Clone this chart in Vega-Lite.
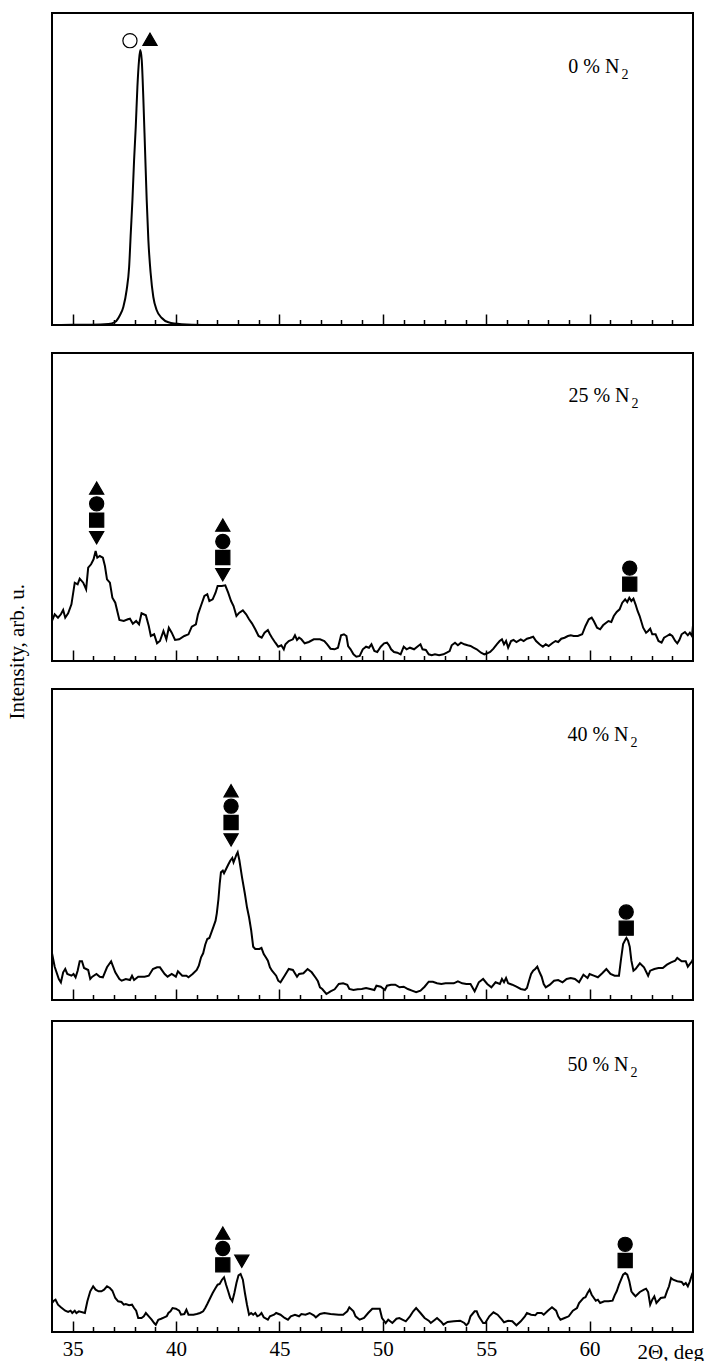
{
  "$schema": "https://vega.github.io/schema/vega-lite/v6.json",
  "padding": {"left": 6, "top": 12, "right": 0, "bottom": 0},
  "config": {
    "view": {"stroke": "black", "strokeWidth": 2},
    "font": "Liberation Serif",
    "axis": {"grid": false}
  },
  "title": {"text": "Intensity, arb. u.", "orient": "left", "anchor": "middle", "frame": "bounds", "font": "Liberation Serif", "fontSize": 21, "fontWeight": "normal", "color": "black", "offset": 19, "dx": 37},
  "datasets": {
    "labels": [
      {"n2": 0, "deg": 61.44, "i": 252.3, "text": "0 % N", "sub": "2"},
      {"n2": 25, "deg": 61.93, "i": 259, "text": "25 % N", "sub": "2"},
      {"n2": 40, "deg": 61.88, "i": 259.3, "text": "40 % N", "sub": "2"},
      {"n2": 50, "deg": 61.88, "i": 261.4, "text": "50 % N", "sub": "2"}
    ],
    "markers": [
      {"n2": 0, "deg": 37.77, "i": 284.3, "phase": "ph5"},
      {"n2": 0, "deg": 38.74, "i": 285.8, "phase": "ph1"},
      {"n2": 25, "deg": 36.16, "i": 172.9, "phase": "ph1"},
      {"n2": 25, "deg": 36.16, "i": 157.2, "phase": "ph2"},
      {"n2": 25, "deg": 36.16, "i": 140.9, "phase": "ph3"},
      {"n2": 25, "deg": 36.16, "i": 123.2, "phase": "ph4"},
      {"n2": 25, "deg": 42.26, "i": 135.9, "phase": "ph1"},
      {"n2": 25, "deg": 42.26, "i": 119.5, "phase": "ph2"},
      {"n2": 25, "deg": 42.26, "i": 103.5, "phase": "ph3"},
      {"n2": 25, "deg": 42.26, "i": 86.2, "phase": "ph4"},
      {"n2": 25, "deg": 61.94, "i": 92.9, "phase": "ph2"},
      {"n2": 25, "deg": 61.94, "i": 76.9, "phase": "ph3"},
      {"n2": 40, "deg": 42.66, "i": 209.3, "phase": "ph1"},
      {"n2": 40, "deg": 42.66, "i": 193.8, "phase": "ph2"},
      {"n2": 40, "deg": 42.66, "i": 177.5, "phase": "ph3"},
      {"n2": 40, "deg": 42.66, "i": 160.1, "phase": "ph4"},
      {"n2": 40, "deg": 61.77, "i": 88, "phase": "ph2"},
      {"n2": 40, "deg": 61.77, "i": 71.8, "phase": "ph3"},
      {"n2": 50, "deg": 42.26, "i": 98.9, "phase": "ph1"},
      {"n2": 50, "deg": 42.26, "i": 83.5, "phase": "ph2"},
      {"n2": 50, "deg": 42.26, "i": 67.2, "phase": "ph3"},
      {"n2": 50, "deg": 43.18, "i": 70.7, "phase": "ph4"},
      {"n2": 50, "deg": 61.72, "i": 87.7, "phase": "ph2"},
      {"n2": 50, "deg": 61.72, "i": 71.5, "phase": "ph3"}
    ],
    "curves": [
      {"n2":0,"deg":34.0,"i":0},{"n2":0,"deg":35.0,"i":0.2},{"n2":0,"deg":35.92,"i":0.3},{"n2":0,"deg":36.73,"i":1},{"n2":0,"deg":37.05,"i":3},{"n2":0,"deg":37.29,"i":10},{"n2":0,"deg":37.45,"i":18},{"n2":0,"deg":37.61,"i":35},{"n2":0,"deg":37.73,"i":58},{"n2":0,"deg":37.81,"i":92},{"n2":0,"deg":37.89,"i":125},{"n2":0,"deg":37.97,"i":165},{"n2":0,"deg":38.05,"i":198},{"n2":0,"deg":38.13,"i":238},{"n2":0,"deg":38.21,"i":265},{"n2":0,"deg":38.27,"i":275},{"n2":0,"deg":38.34,"i":265},{"n2":0,"deg":38.42,"i":225},{"n2":0,"deg":38.5,"i":175},{"n2":0,"deg":38.58,"i":125},{"n2":0,"deg":38.66,"i":85},{"n2":0,"deg":38.77,"i":52},{"n2":0,"deg":38.9,"i":28},{"n2":0,"deg":39.06,"i":15},{"n2":0,"deg":39.31,"i":7},{"n2":0,"deg":39.63,"i":2.7},{"n2":0,"deg":40.27,"i":0.7},{"n2":0,"deg":41.24,"i":0},{"n2":0,"deg":65.0,"i":0},

      {"n2":25,"deg":34.0,"i":40.0},{"n2":25,"deg":34.13,"i":46.7},{"n2":25,"deg":34.29,"i":43.3},{"n2":25,"deg":34.43,"i":46.7},{"n2":25,"deg":34.54,"i":51.0},{"n2":25,"deg":34.64,"i":43.3},{"n2":25,"deg":34.78,"i":47.7},{"n2":25,"deg":34.94,"i":56.7},{"n2":25,"deg":35.1,"i":78.3},{"n2":25,"deg":35.24,"i":76.7},{"n2":25,"deg":35.34,"i":82.3},{"n2":25,"deg":35.51,"i":78.3},{"n2":25,"deg":35.65,"i":71.7},{"n2":25,"deg":35.75,"i":93.3},{"n2":25,"deg":35.89,"i":96.7},{"n2":25,"deg":36.01,"i":101.7},{"n2":25,"deg":36.11,"i":110.0},{"n2":25,"deg":36.19,"i":103.3},{"n2":25,"deg":36.31,"i":105.0},{"n2":25,"deg":36.46,"i":103.3},{"n2":25,"deg":36.56,"i":95.0},{"n2":25,"deg":36.66,"i":81.7},{"n2":25,"deg":36.8,"i":78.3},{"n2":25,"deg":36.92,"i":63.3},{"n2":25,"deg":37.06,"i":58.3},{"n2":25,"deg":37.26,"i":41.0},{"n2":25,"deg":37.47,"i":40.0},{"n2":25,"deg":37.67,"i":41.7},{"n2":25,"deg":37.77,"i":42.3},{"n2":25,"deg":37.91,"i":37.3},{"n2":25,"deg":38.07,"i":40.0},{"n2":25,"deg":38.21,"i":36.7},{"n2":25,"deg":38.33,"i":47.7},{"n2":25,"deg":38.54,"i":45.7},{"n2":25,"deg":38.68,"i":35.0},{"n2":25,"deg":38.78,"i":25.0},{"n2":25,"deg":38.94,"i":26.7},{"n2":25,"deg":39.08,"i":17.7},{"n2":25,"deg":39.22,"i":20.0},{"n2":25,"deg":39.39,"i":30.0},{"n2":25,"deg":39.53,"i":21.7},{"n2":25,"deg":39.65,"i":33.3},{"n2":25,"deg":39.79,"i":28.3},{"n2":25,"deg":39.95,"i":21.0},{"n2":25,"deg":40.15,"i":21.7},{"n2":25,"deg":40.4,"i":25.0},{"n2":25,"deg":40.6,"i":26.7},{"n2":25,"deg":40.76,"i":34.3},{"n2":25,"deg":40.96,"i":36.7},{"n2":25,"deg":41.06,"i":46.7},{"n2":25,"deg":41.2,"i":55.0},{"n2":25,"deg":41.37,"i":65.0},{"n2":25,"deg":41.51,"i":66.7},{"n2":25,"deg":41.61,"i":60.0},{"n2":25,"deg":41.77,"i":61.7},{"n2":25,"deg":41.91,"i":68.3},{"n2":25,"deg":42.01,"i":75.0},{"n2":25,"deg":42.21,"i":75.0},{"n2":25,"deg":42.38,"i":75.7},{"n2":25,"deg":42.52,"i":68.3},{"n2":25,"deg":42.66,"i":60.0},{"n2":25,"deg":42.78,"i":55.0},{"n2":25,"deg":42.92,"i":45.0},{"n2":25,"deg":43.06,"i":48.3},{"n2":25,"deg":43.23,"i":50.7},{"n2":25,"deg":43.39,"i":46.7},{"n2":25,"deg":43.53,"i":41.7},{"n2":25,"deg":43.67,"i":37.7},{"n2":25,"deg":43.83,"i":31.7},{"n2":25,"deg":43.99,"i":25.0},{"n2":25,"deg":44.14,"i":23.3},{"n2":25,"deg":44.28,"i":28.3},{"n2":25,"deg":44.44,"i":31.0},{"n2":25,"deg":44.54,"i":26.7},{"n2":25,"deg":44.64,"i":23.3},{"n2":25,"deg":44.8,"i":18.3},{"n2":25,"deg":44.94,"i":14.3},{"n2":25,"deg":45.09,"i":15.7},{"n2":25,"deg":45.21,"i":11.7},{"n2":25,"deg":45.29,"i":16.7},{"n2":25,"deg":45.45,"i":20.0},{"n2":25,"deg":45.65,"i":21.7},{"n2":25,"deg":45.75,"i":25.7},{"n2":25,"deg":45.85,"i":21.0},{"n2":25,"deg":45.95,"i":23.3},{"n2":25,"deg":46.06,"i":21.7},{"n2":25,"deg":46.22,"i":17.7},{"n2":25,"deg":46.42,"i":19.0},{"n2":25,"deg":46.66,"i":21.7},{"n2":25,"deg":46.96,"i":21.7},{"n2":25,"deg":47.17,"i":20.0},{"n2":25,"deg":47.31,"i":16.7},{"n2":25,"deg":47.47,"i":12.3},{"n2":25,"deg":47.67,"i":11.7},{"n2":25,"deg":47.83,"i":13.3},{"n2":25,"deg":47.98,"i":25.7},{"n2":25,"deg":48.12,"i":26.7},{"n2":25,"deg":48.24,"i":25.0},{"n2":25,"deg":48.32,"i":15.0},{"n2":25,"deg":48.44,"i":11.7},{"n2":25,"deg":48.58,"i":6.7},{"n2":25,"deg":48.72,"i":4.3},{"n2":25,"deg":48.88,"i":5.0},{"n2":25,"deg":49.03,"i":11.7},{"n2":25,"deg":49.19,"i":14.3},{"n2":25,"deg":49.33,"i":13.3},{"n2":25,"deg":49.45,"i":16.7},{"n2":25,"deg":49.59,"i":10.0},{"n2":25,"deg":49.73,"i":9.0},{"n2":25,"deg":49.9,"i":14.3},{"n2":25,"deg":50.06,"i":17.7},{"n2":25,"deg":50.2,"i":18.3},{"n2":25,"deg":50.3,"i":15.7},{"n2":25,"deg":50.4,"i":11.7},{"n2":25,"deg":50.54,"i":9.0},{"n2":25,"deg":50.7,"i":8.3},{"n2":25,"deg":50.86,"i":6.7},{"n2":25,"deg":51.01,"i":14.3},{"n2":25,"deg":51.15,"i":11.7},{"n2":25,"deg":51.31,"i":13.3},{"n2":25,"deg":51.51,"i":11.7},{"n2":25,"deg":51.71,"i":15.0},{"n2":25,"deg":51.82,"i":16.7},{"n2":25,"deg":51.92,"i":11.7},{"n2":25,"deg":52.08,"i":11.0},{"n2":25,"deg":52.22,"i":6.7},{"n2":25,"deg":52.36,"i":5.7},{"n2":25,"deg":52.52,"i":6.7},{"n2":25,"deg":52.72,"i":5.7},{"n2":25,"deg":52.93,"i":6.7},{"n2":25,"deg":53.09,"i":8.3},{"n2":25,"deg":53.23,"i":10.0},{"n2":25,"deg":53.33,"i":15.7},{"n2":25,"deg":53.49,"i":18.3},{"n2":25,"deg":53.63,"i":15.7},{"n2":25,"deg":53.78,"i":18.3},{"n2":25,"deg":53.94,"i":16.7},{"n2":25,"deg":54.1,"i":15.7},{"n2":25,"deg":54.24,"i":15.0},{"n2":25,"deg":54.38,"i":13.3},{"n2":25,"deg":54.54,"i":11.7},{"n2":25,"deg":54.75,"i":8.3},{"n2":25,"deg":54.91,"i":6.7},{"n2":25,"deg":55.05,"i":7.7},{"n2":25,"deg":55.19,"i":9.0},{"n2":25,"deg":55.35,"i":12.3},{"n2":25,"deg":55.51,"i":16.7},{"n2":25,"deg":55.65,"i":20.0},{"n2":25,"deg":55.76,"i":21.7},{"n2":25,"deg":55.86,"i":16.7},{"n2":25,"deg":55.96,"i":20.0},{"n2":25,"deg":56.06,"i":13.3},{"n2":25,"deg":56.2,"i":20.0},{"n2":25,"deg":56.32,"i":21.0},{"n2":25,"deg":56.46,"i":19.0},{"n2":25,"deg":56.67,"i":21.7},{"n2":25,"deg":56.81,"i":20.0},{"n2":25,"deg":56.97,"i":22.3},{"n2":25,"deg":57.13,"i":23.3},{"n2":25,"deg":57.27,"i":24.3},{"n2":25,"deg":57.41,"i":20.0},{"n2":25,"deg":57.58,"i":16.7},{"n2":25,"deg":57.74,"i":14.3},{"n2":25,"deg":57.88,"i":16.7},{"n2":25,"deg":58.02,"i":15.0},{"n2":25,"deg":58.19,"i":17.7},{"n2":25,"deg":58.35,"i":20.0},{"n2":25,"deg":58.48,"i":19.0},{"n2":25,"deg":58.63,"i":22.3},{"n2":25,"deg":58.79,"i":23.3},{"n2":25,"deg":58.95,"i":25.0},{"n2":25,"deg":59.09,"i":25.7},{"n2":25,"deg":59.23,"i":25.0},{"n2":25,"deg":59.43,"i":25.0},{"n2":25,"deg":59.64,"i":26.7},{"n2":25,"deg":59.8,"i":35.0},{"n2":25,"deg":59.96,"i":41.7},{"n2":25,"deg":60.1,"i":43.3},{"n2":25,"deg":60.2,"i":40.0},{"n2":25,"deg":60.36,"i":33.3},{"n2":25,"deg":60.51,"i":31.7},{"n2":25,"deg":60.65,"i":35.7},{"n2":25,"deg":60.77,"i":37.7},{"n2":25,"deg":60.91,"i":40.0},{"n2":25,"deg":61.05,"i":39.0},{"n2":25,"deg":61.17,"i":45.0},{"n2":25,"deg":61.31,"i":49.0},{"n2":25,"deg":61.45,"i":51.7},{"n2":25,"deg":61.58,"i":58.3},{"n2":25,"deg":61.72,"i":61.7},{"n2":25,"deg":61.82,"i":59.0},{"n2":25,"deg":61.92,"i":63.3},{"n2":25,"deg":62.02,"i":60.0},{"n2":25,"deg":62.12,"i":62.3},{"n2":25,"deg":62.22,"i":56.7},{"n2":25,"deg":62.32,"i":50.0},{"n2":25,"deg":62.42,"i":45.0},{"n2":25,"deg":62.59,"i":33.3},{"n2":25,"deg":62.73,"i":28.3},{"n2":25,"deg":62.83,"i":30.0},{"n2":25,"deg":62.93,"i":32.3},{"n2":25,"deg":63.03,"i":26.7},{"n2":25,"deg":63.19,"i":26.7},{"n2":25,"deg":63.33,"i":20.0},{"n2":25,"deg":63.48,"i":18.3},{"n2":25,"deg":63.6,"i":23.3},{"n2":25,"deg":63.74,"i":25.0},{"n2":25,"deg":63.88,"i":26.7},{"n2":25,"deg":64.0,"i":25.0},{"n2":25,"deg":64.14,"i":20.0},{"n2":25,"deg":64.24,"i":17.7},{"n2":25,"deg":64.34,"i":21.0},{"n2":25,"deg":64.45,"i":26.7},{"n2":25,"deg":64.61,"i":29.0},{"n2":25,"deg":64.75,"i":25.7},{"n2":25,"deg":64.85,"i":28.3},{"n2":25,"deg":64.95,"i":25.0},{"n2":25,"deg":65.0,"i":35.7},

      {"n2":40,"deg":34.0,"i":46.7},{"n2":40,"deg":34.13,"i":33.3},{"n2":40,"deg":34.33,"i":21.0},{"n2":40,"deg":34.43,"i":17.7},{"n2":40,"deg":34.54,"i":27.7},{"n2":40,"deg":34.64,"i":31.0},{"n2":40,"deg":34.74,"i":26.0},{"n2":40,"deg":34.94,"i":24.3},{"n2":40,"deg":35.04,"i":26.0},{"n2":40,"deg":35.14,"i":22.7},{"n2":40,"deg":35.24,"i":29.3},{"n2":40,"deg":35.34,"i":38.7},{"n2":40,"deg":35.45,"i":38.7},{"n2":40,"deg":35.55,"i":32.0},{"n2":40,"deg":35.75,"i":30.0},{"n2":40,"deg":35.85,"i":21.0},{"n2":40,"deg":35.95,"i":23.3},{"n2":40,"deg":36.15,"i":26.0},{"n2":40,"deg":36.31,"i":23.3},{"n2":40,"deg":36.46,"i":22.7},{"n2":40,"deg":36.66,"i":32.7},{"n2":40,"deg":36.86,"i":38.7},{"n2":40,"deg":37.06,"i":27.7},{"n2":40,"deg":37.26,"i":21.0},{"n2":40,"deg":37.37,"i":19.3},{"n2":40,"deg":37.57,"i":21.0},{"n2":40,"deg":37.77,"i":20.0},{"n2":40,"deg":37.87,"i":24.3},{"n2":40,"deg":37.97,"i":20.0},{"n2":40,"deg":38.17,"i":23.3},{"n2":40,"deg":38.48,"i":23.3},{"n2":40,"deg":38.68,"i":24.3},{"n2":40,"deg":38.88,"i":31.0},{"n2":40,"deg":39.08,"i":32.7},{"n2":40,"deg":39.22,"i":32.7},{"n2":40,"deg":39.45,"i":26.0},{"n2":40,"deg":39.59,"i":23.3},{"n2":40,"deg":39.79,"i":26.0},{"n2":40,"deg":39.99,"i":23.3},{"n2":40,"deg":40.09,"i":28.7},{"n2":40,"deg":40.3,"i":24.3},{"n2":40,"deg":40.5,"i":24.3},{"n2":40,"deg":40.6,"i":22.7},{"n2":40,"deg":40.8,"i":26.0},{"n2":40,"deg":41.0,"i":30.0},{"n2":40,"deg":41.1,"i":34.3},{"n2":40,"deg":41.21,"i":42.7},{"n2":40,"deg":41.31,"i":46.7},{"n2":40,"deg":41.41,"i":55.3},{"n2":40,"deg":41.51,"i":61.0},{"n2":40,"deg":41.61,"i":62.0},{"n2":40,"deg":41.71,"i":67.7},{"n2":40,"deg":41.81,"i":73.3},{"n2":40,"deg":41.91,"i":79.3},{"n2":40,"deg":41.97,"i":86.7},{"n2":40,"deg":42.05,"i":101.0},{"n2":40,"deg":42.11,"i":116.0},{"n2":40,"deg":42.17,"i":127.7},{"n2":40,"deg":42.26,"i":129.3},{"n2":40,"deg":42.32,"i":126.7},{"n2":40,"deg":42.42,"i":131.0},{"n2":40,"deg":42.52,"i":135.3},{"n2":40,"deg":42.62,"i":139.3},{"n2":40,"deg":42.72,"i":142.0},{"n2":40,"deg":42.78,"i":137.7},{"n2":40,"deg":42.86,"i":142.0},{"n2":40,"deg":42.92,"i":145.3},{"n2":40,"deg":42.98,"i":147.7},{"n2":40,"deg":43.06,"i":140.0},{"n2":40,"deg":43.19,"i":122.7},{"n2":40,"deg":43.33,"i":106.0},{"n2":40,"deg":43.43,"i":92.7},{"n2":40,"deg":43.53,"i":82.7},{"n2":40,"deg":43.63,"i":70.0},{"n2":40,"deg":43.73,"i":53.3},{"n2":40,"deg":43.83,"i":51.0},{"n2":40,"deg":44.03,"i":51.0},{"n2":40,"deg":44.13,"i":52.0},{"n2":40,"deg":44.24,"i":46.0},{"n2":40,"deg":44.34,"i":42.7},{"n2":40,"deg":44.44,"i":39.3},{"n2":40,"deg":44.54,"i":32.7},{"n2":40,"deg":44.64,"i":29.3},{"n2":40,"deg":44.84,"i":24.3},{"n2":40,"deg":44.94,"i":19.3},{"n2":40,"deg":45.05,"i":17.7},{"n2":40,"deg":45.25,"i":24.3},{"n2":40,"deg":45.45,"i":31.0},{"n2":40,"deg":45.65,"i":30.0},{"n2":40,"deg":45.85,"i":23.3},{"n2":40,"deg":45.95,"i":26.0},{"n2":40,"deg":46.16,"i":26.7},{"n2":40,"deg":46.36,"i":31.0},{"n2":40,"deg":46.56,"i":27.7},{"n2":40,"deg":46.76,"i":22.0},{"n2":40,"deg":46.86,"i":18.7},{"n2":40,"deg":46.96,"i":12.7},{"n2":40,"deg":47.07,"i":11.0},{"n2":40,"deg":47.27,"i":6.0},{"n2":40,"deg":47.47,"i":8.7},{"n2":40,"deg":47.67,"i":10.7},{"n2":40,"deg":47.87,"i":16.0},{"n2":40,"deg":48.08,"i":16.7},{"n2":40,"deg":48.28,"i":15.3},{"n2":40,"deg":48.38,"i":11.0},{"n2":40,"deg":48.58,"i":10.0},{"n2":40,"deg":48.78,"i":10.7},{"n2":40,"deg":48.98,"i":11.0},{"n2":40,"deg":49.19,"i":12.0},{"n2":40,"deg":49.39,"i":11.0},{"n2":40,"deg":49.59,"i":10.0},{"n2":40,"deg":49.69,"i":14.3},{"n2":40,"deg":49.9,"i":13.3},{"n2":40,"deg":50.1,"i":10.0},{"n2":40,"deg":50.2,"i":14.3},{"n2":40,"deg":50.4,"i":15.3},{"n2":40,"deg":50.6,"i":15.3},{"n2":40,"deg":50.81,"i":12.7},{"n2":40,"deg":51.01,"i":13.3},{"n2":40,"deg":51.21,"i":11.0},{"n2":40,"deg":51.41,"i":9.3},{"n2":40,"deg":51.61,"i":7.7},{"n2":40,"deg":51.82,"i":9.3},{"n2":40,"deg":52.02,"i":13.3},{"n2":40,"deg":52.22,"i":18.3},{"n2":40,"deg":52.42,"i":18.3},{"n2":40,"deg":52.62,"i":16.7},{"n2":40,"deg":52.83,"i":16.0},{"n2":40,"deg":53.03,"i":16.7},{"n2":40,"deg":53.23,"i":16.7},{"n2":40,"deg":53.43,"i":16.7},{"n2":40,"deg":53.63,"i":18.7},{"n2":40,"deg":53.84,"i":16.7},{"n2":40,"deg":54.04,"i":16.0},{"n2":40,"deg":54.24,"i":16.0},{"n2":40,"deg":54.44,"i":8.7},{"n2":40,"deg":54.64,"i":17.7},{"n2":40,"deg":54.85,"i":21.0},{"n2":40,"deg":55.05,"i":16.0},{"n2":40,"deg":55.25,"i":12.7},{"n2":40,"deg":55.45,"i":17.7},{"n2":40,"deg":55.66,"i":16.0},{"n2":40,"deg":55.76,"i":21.0},{"n2":40,"deg":55.86,"i":17.7},{"n2":40,"deg":55.96,"i":22.0},{"n2":40,"deg":56.06,"i":16.7},{"n2":40,"deg":56.26,"i":15.3},{"n2":40,"deg":56.46,"i":13.3},{"n2":40,"deg":56.67,"i":11.0},{"n2":40,"deg":56.87,"i":10.0},{"n2":40,"deg":56.97,"i":12.0},{"n2":40,"deg":57.07,"i":19.3},{"n2":40,"deg":57.17,"i":26.0},{"n2":40,"deg":57.27,"i":29.3},{"n2":40,"deg":57.37,"i":31.0},{"n2":40,"deg":57.47,"i":33.3},{"n2":40,"deg":57.58,"i":27.7},{"n2":40,"deg":57.68,"i":23.3},{"n2":40,"deg":57.78,"i":16.0},{"n2":40,"deg":57.88,"i":12.7},{"n2":40,"deg":58.08,"i":15.3},{"n2":40,"deg":58.28,"i":19.3},{"n2":40,"deg":58.48,"i":20.0},{"n2":40,"deg":58.69,"i":17.7},{"n2":40,"deg":58.89,"i":21.0},{"n2":40,"deg":59.09,"i":22.0},{"n2":40,"deg":59.29,"i":21.0},{"n2":40,"deg":59.49,"i":17.7},{"n2":40,"deg":59.7,"i":25.3},{"n2":40,"deg":59.9,"i":22.0},{"n2":40,"deg":60.0,"i":26.0},{"n2":40,"deg":60.2,"i":24.3},{"n2":40,"deg":60.4,"i":22.7},{"n2":40,"deg":60.61,"i":26.7},{"n2":40,"deg":60.81,"i":31.0},{"n2":40,"deg":61.01,"i":26.0},{"n2":40,"deg":61.21,"i":24.3},{"n2":40,"deg":61.42,"i":24.3},{"n2":40,"deg":61.52,"i":41.0},{"n2":40,"deg":61.62,"i":56.0},{"n2":40,"deg":61.72,"i":60.0},{"n2":40,"deg":61.78,"i":62.0},{"n2":40,"deg":61.86,"i":59.3},{"n2":40,"deg":61.94,"i":53.3},{"n2":40,"deg":62.02,"i":39.3},{"n2":40,"deg":62.12,"i":29.3},{"n2":40,"deg":62.22,"i":31.0},{"n2":40,"deg":62.43,"i":36.7},{"n2":40,"deg":62.63,"i":32.7},{"n2":40,"deg":62.83,"i":24.3},{"n2":40,"deg":62.93,"i":29.3},{"n2":40,"deg":63.13,"i":31.0},{"n2":40,"deg":63.33,"i":32.0},{"n2":40,"deg":63.54,"i":32.0},{"n2":40,"deg":63.74,"i":35.3},{"n2":40,"deg":63.94,"i":37.7},{"n2":40,"deg":64.14,"i":39.3},{"n2":40,"deg":64.24,"i":42.0},{"n2":40,"deg":64.45,"i":38.7},{"n2":40,"deg":64.65,"i":38.7},{"n2":40,"deg":64.75,"i":33.3},{"n2":40,"deg":64.95,"i":38.7},{"n2":40,"deg":65.0,"i":41.0},

      {"n2":50,"deg":34.0,"i":29.0},{"n2":50,"deg":34.09,"i":31.3},{"n2":50,"deg":34.17,"i":32.3},{"n2":50,"deg":34.29,"i":27.3},{"n2":50,"deg":34.43,"i":24.7},{"n2":50,"deg":34.64,"i":21.3},{"n2":50,"deg":34.78,"i":20.0},{"n2":50,"deg":34.9,"i":21.3},{"n2":50,"deg":34.98,"i":19.0},{"n2":50,"deg":35.1,"i":21.3},{"n2":50,"deg":35.18,"i":19.0},{"n2":50,"deg":35.3,"i":20.7},{"n2":50,"deg":35.59,"i":19.0},{"n2":50,"deg":35.71,"i":30.7},{"n2":50,"deg":35.85,"i":40.7},{"n2":50,"deg":35.99,"i":45.7},{"n2":50,"deg":36.11,"i":42.3},{"n2":50,"deg":36.25,"i":40.7},{"n2":50,"deg":36.39,"i":40.7},{"n2":50,"deg":36.52,"i":42.3},{"n2":50,"deg":36.66,"i":45.7},{"n2":50,"deg":36.8,"i":44.0},{"n2":50,"deg":36.92,"i":41.3},{"n2":50,"deg":37.06,"i":34.0},{"n2":50,"deg":37.2,"i":30.7},{"n2":50,"deg":37.36,"i":30.0},{"n2":50,"deg":37.47,"i":27.3},{"n2":50,"deg":37.57,"i":28.0},{"n2":50,"deg":37.73,"i":26.7},{"n2":50,"deg":37.87,"i":27.3},{"n2":50,"deg":37.97,"i":24.0},{"n2":50,"deg":38.07,"i":21.3},{"n2":50,"deg":38.17,"i":14.0},{"n2":50,"deg":38.33,"i":14.0},{"n2":50,"deg":38.44,"i":15.7},{"n2":50,"deg":38.54,"i":19.0},{"n2":50,"deg":38.68,"i":15.7},{"n2":50,"deg":38.82,"i":12.3},{"n2":50,"deg":38.94,"i":9.0},{"n2":50,"deg":39.02,"i":7.3},{"n2":50,"deg":39.14,"i":12.3},{"n2":50,"deg":39.28,"i":13.3},{"n2":50,"deg":39.43,"i":14.7},{"n2":50,"deg":39.55,"i":15.7},{"n2":50,"deg":39.63,"i":19.0},{"n2":50,"deg":39.73,"i":20.7},{"n2":50,"deg":39.83,"i":24.0},{"n2":50,"deg":39.99,"i":23.3},{"n2":50,"deg":40.15,"i":21.3},{"n2":50,"deg":40.24,"i":17.3},{"n2":50,"deg":40.4,"i":18.0},{"n2":50,"deg":40.5,"i":22.3},{"n2":50,"deg":40.6,"i":17.3},{"n2":50,"deg":40.84,"i":17.3},{"n2":50,"deg":41.0,"i":18.0},{"n2":50,"deg":41.16,"i":19.0},{"n2":50,"deg":41.31,"i":20.7},{"n2":50,"deg":41.41,"i":24.0},{"n2":50,"deg":41.51,"i":28.0},{"n2":50,"deg":41.61,"i":32.3},{"n2":50,"deg":41.77,"i":39.0},{"n2":50,"deg":41.91,"i":44.0},{"n2":50,"deg":42.01,"i":47.3},{"n2":50,"deg":42.11,"i":48.0},{"n2":50,"deg":42.22,"i":52.3},{"n2":50,"deg":42.32,"i":54.7},{"n2":50,"deg":42.42,"i":47.3},{"n2":50,"deg":42.52,"i":40.7},{"n2":50,"deg":42.62,"i":34.0},{"n2":50,"deg":42.72,"i":30.7},{"n2":50,"deg":42.82,"i":39.0},{"n2":50,"deg":42.92,"i":49.0},{"n2":50,"deg":43.02,"i":56.7},{"n2":50,"deg":43.12,"i":58.0},{"n2":50,"deg":43.23,"i":52.3},{"n2":50,"deg":43.33,"i":39.0},{"n2":50,"deg":43.43,"i":27.3},{"n2":50,"deg":43.53,"i":17.3},{"n2":50,"deg":43.63,"i":19.0},{"n2":50,"deg":43.73,"i":17.3},{"n2":50,"deg":43.83,"i":19.0},{"n2":50,"deg":43.93,"i":15.7},{"n2":50,"deg":44.03,"i":16.7},{"n2":50,"deg":44.13,"i":19.0},{"n2":50,"deg":44.24,"i":14.7},{"n2":50,"deg":44.44,"i":12.3},{"n2":50,"deg":44.54,"i":15.7},{"n2":50,"deg":44.74,"i":17.3},{"n2":50,"deg":44.84,"i":19.0},{"n2":50,"deg":45.05,"i":17.3},{"n2":50,"deg":45.25,"i":14.0},{"n2":50,"deg":45.41,"i":12.3},{"n2":50,"deg":45.55,"i":15.7},{"n2":50,"deg":45.75,"i":17.3},{"n2":50,"deg":45.95,"i":15.7},{"n2":50,"deg":46.06,"i":18.0},{"n2":50,"deg":46.26,"i":17.3},{"n2":50,"deg":46.46,"i":19.0},{"n2":50,"deg":46.66,"i":16.7},{"n2":50,"deg":46.76,"i":14.7},{"n2":50,"deg":46.96,"i":18.0},{"n2":50,"deg":47.17,"i":19.0},{"n2":50,"deg":47.47,"i":18.0},{"n2":50,"deg":47.87,"i":17.3},{"n2":50,"deg":48.08,"i":17.3},{"n2":50,"deg":48.18,"i":19.0},{"n2":50,"deg":48.28,"i":20.7},{"n2":50,"deg":48.38,"i":24.7},{"n2":50,"deg":48.58,"i":20.7},{"n2":50,"deg":48.68,"i":15.7},{"n2":50,"deg":48.88,"i":12.3},{"n2":50,"deg":49.09,"i":14.0},{"n2":50,"deg":49.29,"i":19.0},{"n2":50,"deg":49.49,"i":23.3},{"n2":50,"deg":49.85,"i":23.3},{"n2":50,"deg":49.96,"i":14.0},{"n2":50,"deg":50.14,"i":9.0},{"n2":50,"deg":50.26,"i":12.3},{"n2":50,"deg":50.46,"i":9.0},{"n2":50,"deg":50.66,"i":13.3},{"n2":50,"deg":50.8,"i":14.0},{"n2":50,"deg":51.11,"i":10.7},{"n2":50,"deg":51.31,"i":15.7},{"n2":50,"deg":51.47,"i":20.7},{"n2":50,"deg":51.61,"i":24.0},{"n2":50,"deg":51.82,"i":19.0},{"n2":50,"deg":52.02,"i":14.0},{"n2":50,"deg":52.22,"i":11.3},{"n2":50,"deg":52.32,"i":9.0},{"n2":50,"deg":52.52,"i":12.3},{"n2":50,"deg":52.62,"i":14.0},{"n2":50,"deg":52.83,"i":10.0},{"n2":50,"deg":52.93,"i":7.3},{"n2":50,"deg":53.13,"i":10.0},{"n2":50,"deg":53.43,"i":10.7},{"n2":50,"deg":53.74,"i":11.3},{"n2":50,"deg":53.94,"i":9.0},{"n2":50,"deg":54.04,"i":6.7},{"n2":50,"deg":54.14,"i":9.0},{"n2":50,"deg":54.24,"i":15.7},{"n2":50,"deg":54.44,"i":20.7},{"n2":50,"deg":54.54,"i":20.7},{"n2":50,"deg":54.64,"i":15.7},{"n2":50,"deg":54.85,"i":9.0},{"n2":50,"deg":54.95,"i":9.0},{"n2":50,"deg":55.15,"i":15.7},{"n2":50,"deg":55.35,"i":19.7},{"n2":50,"deg":55.55,"i":17.3},{"n2":50,"deg":55.76,"i":12.3},{"n2":50,"deg":55.86,"i":9.7},{"n2":50,"deg":56.06,"i":11.3},{"n2":50,"deg":56.26,"i":10.7},{"n2":50,"deg":56.46,"i":6.7},{"n2":50,"deg":56.67,"i":10.7},{"n2":50,"deg":56.87,"i":15.7},{"n2":50,"deg":56.97,"i":19.0},{"n2":50,"deg":57.17,"i":17.3},{"n2":50,"deg":57.37,"i":16.7},{"n2":50,"deg":57.47,"i":19.0},{"n2":50,"deg":57.68,"i":19.0},{"n2":50,"deg":57.78,"i":17.3},{"n2":50,"deg":57.98,"i":21.3},{"n2":50,"deg":58.18,"i":24.7},{"n2":50,"deg":58.38,"i":21.3},{"n2":50,"deg":58.48,"i":15.7},{"n2":50,"deg":58.59,"i":12.3},{"n2":50,"deg":58.79,"i":14.0},{"n2":50,"deg":58.99,"i":15.7},{"n2":50,"deg":59.19,"i":21.3},{"n2":50,"deg":59.39,"i":24.0},{"n2":50,"deg":59.49,"i":29.0},{"n2":50,"deg":59.7,"i":34.0},{"n2":50,"deg":59.8,"i":34.7},{"n2":50,"deg":59.9,"i":39.0},{"n2":50,"deg":60.0,"i":42.3},{"n2":50,"deg":60.1,"i":37.3},{"n2":50,"deg":60.3,"i":31.3},{"n2":50,"deg":60.4,"i":32.3},{"n2":50,"deg":60.51,"i":29.0},{"n2":50,"deg":60.71,"i":30.7},{"n2":50,"deg":60.91,"i":30.7},{"n2":50,"deg":61.11,"i":31.3},{"n2":50,"deg":61.21,"i":36.7},{"n2":50,"deg":61.31,"i":40.7},{"n2":50,"deg":61.42,"i":47.3},{"n2":50,"deg":61.52,"i":52.3},{"n2":50,"deg":61.62,"i":57.3},{"n2":50,"deg":61.72,"i":59.0},{"n2":50,"deg":61.82,"i":57.3},{"n2":50,"deg":61.92,"i":50.7},{"n2":50,"deg":62.02,"i":40.7},{"n2":50,"deg":62.12,"i":38.0},{"n2":50,"deg":62.22,"i":35.7},{"n2":50,"deg":62.43,"i":40.0},{"n2":50,"deg":62.63,"i":42.3},{"n2":50,"deg":62.73,"i":43.3},{"n2":50,"deg":62.83,"i":40.0},{"n2":50,"deg":62.93,"i":27.3},{"n2":50,"deg":63.03,"i":32.3},{"n2":50,"deg":63.13,"i":35.7},{"n2":50,"deg":63.23,"i":29.0},{"n2":50,"deg":63.44,"i":34.0},{"n2":50,"deg":63.64,"i":34.7},{"n2":50,"deg":63.74,"i":40.7},{"n2":50,"deg":63.84,"i":45.7},{"n2":50,"deg":63.94,"i":54.0},{"n2":50,"deg":64.04,"i":52.3},{"n2":50,"deg":64.24,"i":50.7},{"n2":50,"deg":64.45,"i":50.0},{"n2":50,"deg":64.55,"i":47.3},{"n2":50,"deg":64.65,"i":49.0},{"n2":50,"deg":64.75,"i":45.7},{"n2":50,"deg":64.85,"i":50.7},{"n2":50,"deg":64.95,"i":57.3},{"n2":50,"deg":65.0,"i":55.7}
    ]
  },
  "spacing": 25,
  "vconcat": [
    {
      "spacing": 22,
      "vconcat": [
        {
          "width": 641, "height": 312,
          "encoding": {
            "x": {"field": "deg", "type": "quantitative", "scale": {"domain": [34, 65], "nice": false, "zero": false},
              "axis": {"values": [35,36,37,38,39,40,41,42,43,44,45,46,47,48,49,50,51,52,53,54,55,56,57,58,59,60,61,62,63,64], "labels": false, "domain": false, "title": null, "tickColor": "black", "tickWidth": 1.5, "tickSize": {"condition": {"test": "datum.value % 5 === 0", "value": -11}, "value": -5.5}}},
            "y": {"field": "i", "type": "quantitative", "scale": {"domain": [0, 312], "nice": false, "zero": false}, "axis": null}
          },
          "layer": [
            {"data": {"name": "curves"}, "transform": [{"filter": "datum.n2 === 0"}], "mark": {"type": "line", "color": "black", "strokeWidth": 2, "interpolate": "monotone"}},
            {"data": {"name": "markers"}, "transform": [{"filter": "datum.n2 === 0"}], "mark": {"type": "point", "filled": true, "size": 200, "stroke": "black", "strokeWidth": 1.2, "opacity": 1},
              "encoding": {
                "shape": {"field": "phase", "type": "nominal", "scale": {"domain": ["ph1","ph2","ph3","ph4","ph5"], "range": ["triangle-up","circle","square","triangle-down","circle"]}, "legend": null},
                "fill": {"field": "phase", "type": "nominal", "scale": {"domain": ["ph1","ph2","ph3","ph4","ph5"], "range": ["black","black","black","black","white"]}, "legend": null}
              }},
            {"data": {"name": "labels"}, "transform": [{"filter": "datum.n2 === 0"}], "mark": {"type": "text", "align": "right", "baseline": "alphabetic", "font": "Liberation Serif", "fontSize": 20, "color": "black"}, "encoding": {"text": {"field": "text"}}},
            {"data": {"name": "labels"}, "transform": [{"filter": "datum.n2 === 0"}], "mark": {"type": "text", "align": "left", "baseline": "alphabetic", "font": "Liberation Serif", "fontSize": 14, "dx": 2, "dy": 6, "color": "black"}, "encoding": {"text": {"field": "sub"}}}
          ]
        },
        {
          "width": 641, "height": 308,
          "encoding": {
            "x": {"field": "deg", "type": "quantitative", "scale": {"domain": [34, 65], "nice": false, "zero": false},
              "axis": {"values": [35,36,37,38,39,40,41,42,43,44,45,46,47,48,49,50,51,52,53,54,55,56,57,58,59,60,61,62,63,64], "labels": false, "domain": false, "title": null, "tickColor": "black", "tickWidth": 1.5, "tickSize": {"condition": {"test": "datum.value % 5 === 0", "value": -11}, "value": -5.5}}},
            "y": {"field": "i", "type": "quantitative", "scale": {"domain": [0, 308], "nice": false, "zero": false}, "axis": null}
          },
          "layer": [
            {"data": {"name": "curves"}, "transform": [{"filter": "datum.n2 === 25"}], "mark": {"type": "line", "color": "black", "strokeWidth": 2}},
            {"data": {"name": "markers"}, "transform": [{"filter": "datum.n2 === 25"}], "mark": {"type": "point", "filled": true, "size": 200, "stroke": "black", "strokeWidth": 1.2, "opacity": 1},
              "encoding": {
                "shape": {"field": "phase", "type": "nominal", "scale": {"domain": ["ph1","ph2","ph3","ph4","ph5"], "range": ["triangle-up","circle","square","triangle-down","circle"]}, "legend": null},
                "fill": {"field": "phase", "type": "nominal", "scale": {"domain": ["ph1","ph2","ph3","ph4","ph5"], "range": ["black","black","black","black","white"]}, "legend": null}
              }},
            {"data": {"name": "labels"}, "transform": [{"filter": "datum.n2 === 25"}], "mark": {"type": "text", "align": "right", "baseline": "alphabetic", "font": "Liberation Serif", "fontSize": 20, "color": "black"}, "encoding": {"text": {"field": "text"}}},
            {"data": {"name": "labels"}, "transform": [{"filter": "datum.n2 === 25"}], "mark": {"type": "text", "align": "left", "baseline": "alphabetic", "font": "Liberation Serif", "fontSize": 14, "dx": 2, "dy": 6, "color": "black"}, "encoding": {"text": {"field": "sub"}}}
          ]
        }
      ]
    },
    {
      "spacing": 18,
      "vconcat": [
        {
          "width": 641, "height": 311,
          "encoding": {
            "x": {"field": "deg", "type": "quantitative", "scale": {"domain": [34, 65], "nice": false, "zero": false},
              "axis": {"values": [35,36,37,38,39,40,41,42,43,44,45,46,47,48,49,50,51,52,53,54,55,56,57,58,59,60,61,62,63,64], "labels": false, "domain": false, "title": null, "tickColor": "black", "tickWidth": 1.5, "tickSize": {"condition": {"test": "datum.value % 5 === 0", "value": -11}, "value": -5.5}}},
            "y": {"field": "i", "type": "quantitative", "scale": {"domain": [0, 311], "nice": false, "zero": false}, "axis": null}
          },
          "layer": [
            {"data": {"name": "curves"}, "transform": [{"filter": "datum.n2 === 40"}], "mark": {"type": "line", "color": "black", "strokeWidth": 2}},
            {"data": {"name": "markers"}, "transform": [{"filter": "datum.n2 === 40"}], "mark": {"type": "point", "filled": true, "size": 200, "stroke": "black", "strokeWidth": 1.2, "opacity": 1},
              "encoding": {
                "shape": {"field": "phase", "type": "nominal", "scale": {"domain": ["ph1","ph2","ph3","ph4","ph5"], "range": ["triangle-up","circle","square","triangle-down","circle"]}, "legend": null},
                "fill": {"field": "phase", "type": "nominal", "scale": {"domain": ["ph1","ph2","ph3","ph4","ph5"], "range": ["black","black","black","black","white"]}, "legend": null}
              }},
            {"data": {"name": "labels"}, "transform": [{"filter": "datum.n2 === 40"}], "mark": {"type": "text", "align": "right", "baseline": "alphabetic", "font": "Liberation Serif", "fontSize": 20, "color": "black"}, "encoding": {"text": {"field": "text"}}},
            {"data": {"name": "labels"}, "transform": [{"filter": "datum.n2 === 40"}], "mark": {"type": "text", "align": "left", "baseline": "alphabetic", "font": "Liberation Serif", "fontSize": 14, "dx": 2, "dy": 6, "color": "black"}, "encoding": {"text": {"field": "sub"}}}
          ]
        },
        {
          "width": 641, "height": 311,
          "encoding": {
            "x": {"field": "deg", "type": "quantitative", "scale": {"domain": [34, 65], "nice": false, "zero": false},
              "axis": {"values": [35,36,37,38,39,40,41,42,43,44,45,46,47,48,49,50,51,52,53,54,55,56,57,58,59,60,61,62,63,64], "labels": true, "labelExpr": "datum.value % 5 === 0 ? datum.label : ''", "labelFont": "Liberation Serif", "labelFontSize": 21, "labelColor": "black", "labelPadding": 17, "labelOverlap": false, "labelFlush": false, "domain": false, "tickColor": "black", "tickWidth": 1.5, "tickSize": {"condition": {"test": "datum.value % 5 === 0", "value": -11}, "value": -5.5},
                "title": "2Θ, deg", "titleFont": "Liberation Serif", "titleFontSize": 21, "titleFontWeight": "normal", "titleColor": "black", "titleX": 585, "titleY": 26, "titleAlign": "left", "titleBaseline": "alphabetic"}},
            "y": {"field": "i", "type": "quantitative", "scale": {"domain": [0, 311], "nice": false, "zero": false}, "axis": null}
          },
          "layer": [
            {"data": {"name": "curves"}, "transform": [{"filter": "datum.n2 === 50"}], "mark": {"type": "line", "color": "black", "strokeWidth": 2}},
            {"data": {"name": "markers"}, "transform": [{"filter": "datum.n2 === 50"}], "mark": {"type": "point", "filled": true, "size": 200, "stroke": "black", "strokeWidth": 1.2, "opacity": 1},
              "encoding": {
                "shape": {"field": "phase", "type": "nominal", "scale": {"domain": ["ph1","ph2","ph3","ph4","ph5"], "range": ["triangle-up","circle","square","triangle-down","circle"]}, "legend": null},
                "fill": {"field": "phase", "type": "nominal", "scale": {"domain": ["ph1","ph2","ph3","ph4","ph5"], "range": ["black","black","black","black","white"]}, "legend": null}
              }},
            {"data": {"name": "labels"}, "transform": [{"filter": "datum.n2 === 50"}], "mark": {"type": "text", "align": "right", "baseline": "alphabetic", "font": "Liberation Serif", "fontSize": 20, "color": "black"}, "encoding": {"text": {"field": "text"}}},
            {"data": {"name": "labels"}, "transform": [{"filter": "datum.n2 === 50"}], "mark": {"type": "text", "align": "left", "baseline": "alphabetic", "font": "Liberation Serif", "fontSize": 14, "dx": 2, "dy": 6, "color": "black"}, "encoding": {"text": {"field": "sub"}}}
          ]
        }
      ]
    }
  ]
}
